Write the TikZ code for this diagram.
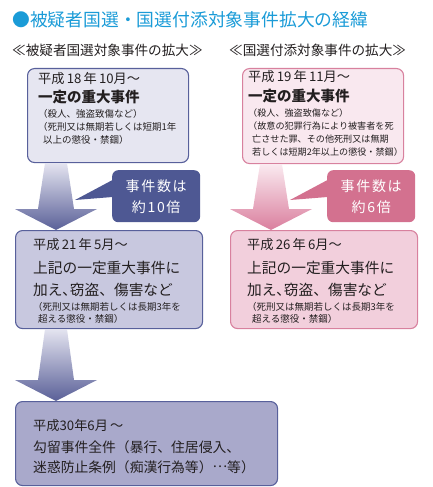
\documentclass[tikz,border=0pt]{standalone}
\usepackage{fontspec}
\setmainfont{Noto Sans CJK JP}
\usetikzlibrary{calc}

\definecolor{titleblue}{HTML}{1A9BD7}
\definecolor{inkdark}{HTML}{231F20}
\definecolor{navyline}{HTML}{58609B}
\definecolor{lfillA}{HTML}{E6E6F1}
\definecolor{lfillB}{HTML}{C8C8DF}
\definecolor{lfillC}{HTML}{A9A9CB}
\definecolor{lcallfill}{HTML}{4E5893}
\definecolor{larrtop}{HTML}{E4E4F0}
\definecolor{larrbot}{HTML}{5A6098}
\definecolor{pinkline}{HTML}{D8819E}
\definecolor{rfillA}{HTML}{F9E8EF}
\definecolor{rfillB}{HTML}{F2CFDC}
\definecolor{rcallfill}{HTML}{D3718F}
\definecolor{rarrtop}{HTML}{FAEAF0}
\definecolor{rarrbot}{HTML}{DA7F9E}

\tikzset{
  box/.style={line width=1.1pt, rounded corners=7pt, anchor=north west, inner sep=0pt},
  lbox/.style={box, draw=navyline},
  rbox/.style={box, draw=pinkline},
  callbox/.style={rounded corners=6pt, anchor=north west, inner sep=0pt, text=white,
    minimum width=88, minimum height=52, align=center,
    font=\fontsize{14}{21}\selectfont\addfontfeature{LetterSpace=12}},
  txt/.style={anchor=west, inner sep=0pt, text=inkdark},
  midtxt/.style={txt, font=\fontsize{13.2}{15}\selectfont},
  bigtxt/.style={txt, font=\fontsize{14.7}{16}\selectfont},
  boldtxt/.style={txt, font=\fontsize{14.5}{16}\selectfont\bfseries},
  smalltxt/.style={txt, font=\fontsize{9.5}{11}\selectfont},
  rsmalltxt/.style={txt, font=\fontsize{9.1}{11}\selectfont},
}

% block arrow: axis coordinate, from node, to node, top colour, bottom colour
\newcommand{\bigarrow}[5]{%
  \coordinate (s) at (#2.south -| #1);
  \coordinate (t) at (#3.north -| #1);
  \shade[top color=#4, bottom color=#5]
    ($(s)+(-11,0)$) -- ($(s)+(11,0)$) -- ($(t)+(18,-21)$) -- ($(t)+(41,-21)$)
    -- (t) -- ($(t)+(-41,-21)$) -- ($(t)+(-18,-21)$) -- cycle;
}

\begin{document}
\begin{tikzpicture}[x=1pt,y=-1pt]
  \useasboundingbox (0,0) rectangle (433,487);

  % Title
  \node[txt, text=titleblue, font=\fontsize{17.8}{20}\selectfont] (title) at (12,20)
    {●被疑者国選・国選付添対象事件拡大の経緯};
  \node[txt, font=\fontsize{13.6}{15}\selectfont] (lhead) at (12,50) {≪被疑者国選対象事件の拡大≫};
  \node[txt, font=\fontsize{13.6}{15}\selectfont] (rhead) at (229,50) {≪国選付添対象事件の拡大≫};

  % Boxes
  \node[lbox, fill=lfillA, minimum width=161, minimum height=94] (l1) at (27,68) {};
  \node[lbox, fill=lfillB, minimum width=187, minimum height=98] (l2) at (15,230) {};
  \node[lbox, fill=lfillC, minimum width=262, minimum height=84] (l3) at (15,401) {};
  \node[rbox, fill=rfillA, minimum width=161, minimum height=95] (r1) at (242,68) {};
  \node[rbox, fill=rfillB, minimum width=187, minimum height=98] (r2) at (230,230) {};

  % Arrows
  \coordinate (laxis) at (56,0);
  \coordinate (raxis) at (271,0);
  \bigarrow{laxis}{l1}{l2}{larrtop}{larrbot}
  \bigarrow{laxis}{l2}{l3}{larrtop}{larrbot}
  \bigarrow{raxis}{r1}{r2}{rarrtop}{rarrbot}

  % Callouts
  \node[callbox, fill=lcallfill] (lc) at (112,170) {事件数は\\約10倍};
  \coordinate (lctip) at (75,200);
  \fill[lcallfill] ($(lc.north west)+(0.5,10)$) -- (lctip) -- ($(lc.north west)+(0.5,27)$) -- cycle;
  \node[callbox, fill=rcallfill] (rc) at (327,170) {事件数は\\約6倍};
  \coordinate (rctip) at (290,200);
  \fill[rcallfill] ($(rc.north west)+(0.5,10)$) -- (rctip) -- ($(rc.north west)+(0.5,27)$) -- cycle;

  % Left texts
  \node[midtxt] (l1a) at (38,79) {平成\,18\,年\,10月～};
  \node[boldtxt] (l1b) at (38,97) {一定の重大事件};
  \node[smalltxt] (l1c) at (38,114) {（殺人、強盗致傷など）};
  \node[smalltxt] (l1d) at (38,127) {（死刑又は無期若しくは短期1年};
  \node[smalltxt] (l1e) at (43,140) {以上の懲役・禁錮）};

  \node[midtxt] (l2a) at (33,245) {平成\,21\,年\,5月～};
  \node[bigtxt] (l2b) at (33,268) {上記の一定重大事件に};
  \node[bigtxt] (l2c) at (33,290) {加え､窃盗、傷害など};
  \node[smalltxt] (l2d) at (33,307) {（死刑又は無期若しくは長期3年を};
  \node[smalltxt] (l2e) at (38,319) {超える懲役・禁錮）};

  \node[midtxt] (l3a) at (33,425) {平成30年6月\,～};
  \node[txt, font=\fontsize{13.8}{16}\selectfont] (l3b) at (33,447) {勾留事件全件（暴行、住居侵入、};
  \node[txt, font=\fontsize{13.8}{16}\selectfont] (l3c) at (33,467)
    {迷惑防止条例（痴漢行為等）\raisebox{.33em}{…}等）};

  % Right texts
  \node[midtxt] (r1a) at (248,77) {平成\,19\,年\,11月～};
  \node[boldtxt] (r1b) at (248,96) {一定の重大事件};
  \node[rsmalltxt] (r1c) at (248,113) {（殺人、強盗致傷など）};
  \node[rsmalltxt] (r1d) at (248,126) {（故意の犯罪行為により被害者を死};
  \node[rsmalltxt] (r1e) at (252,139) {亡させた罪、その他死刑又は無期};
  \node[rsmalltxt] (r1f) at (252,152) {若しくは短期2年以上の懲役・禁錮）};

  \node[midtxt] (r2a) at (247,245) {平成\,26\,年\,6月～};
  \node[bigtxt] (r2b) at (247,268) {上記の一定重大事件に};
  \node[bigtxt] (r2c) at (247,290) {加え､窃盗、傷害など};
  \node[smalltxt] (r2d) at (247,307) {（死刑又は無期若しくは長期3年を};
  \node[smalltxt] (r2e) at (252,319) {超える懲役・禁錮）};
\end{tikzpicture}
\end{document}
